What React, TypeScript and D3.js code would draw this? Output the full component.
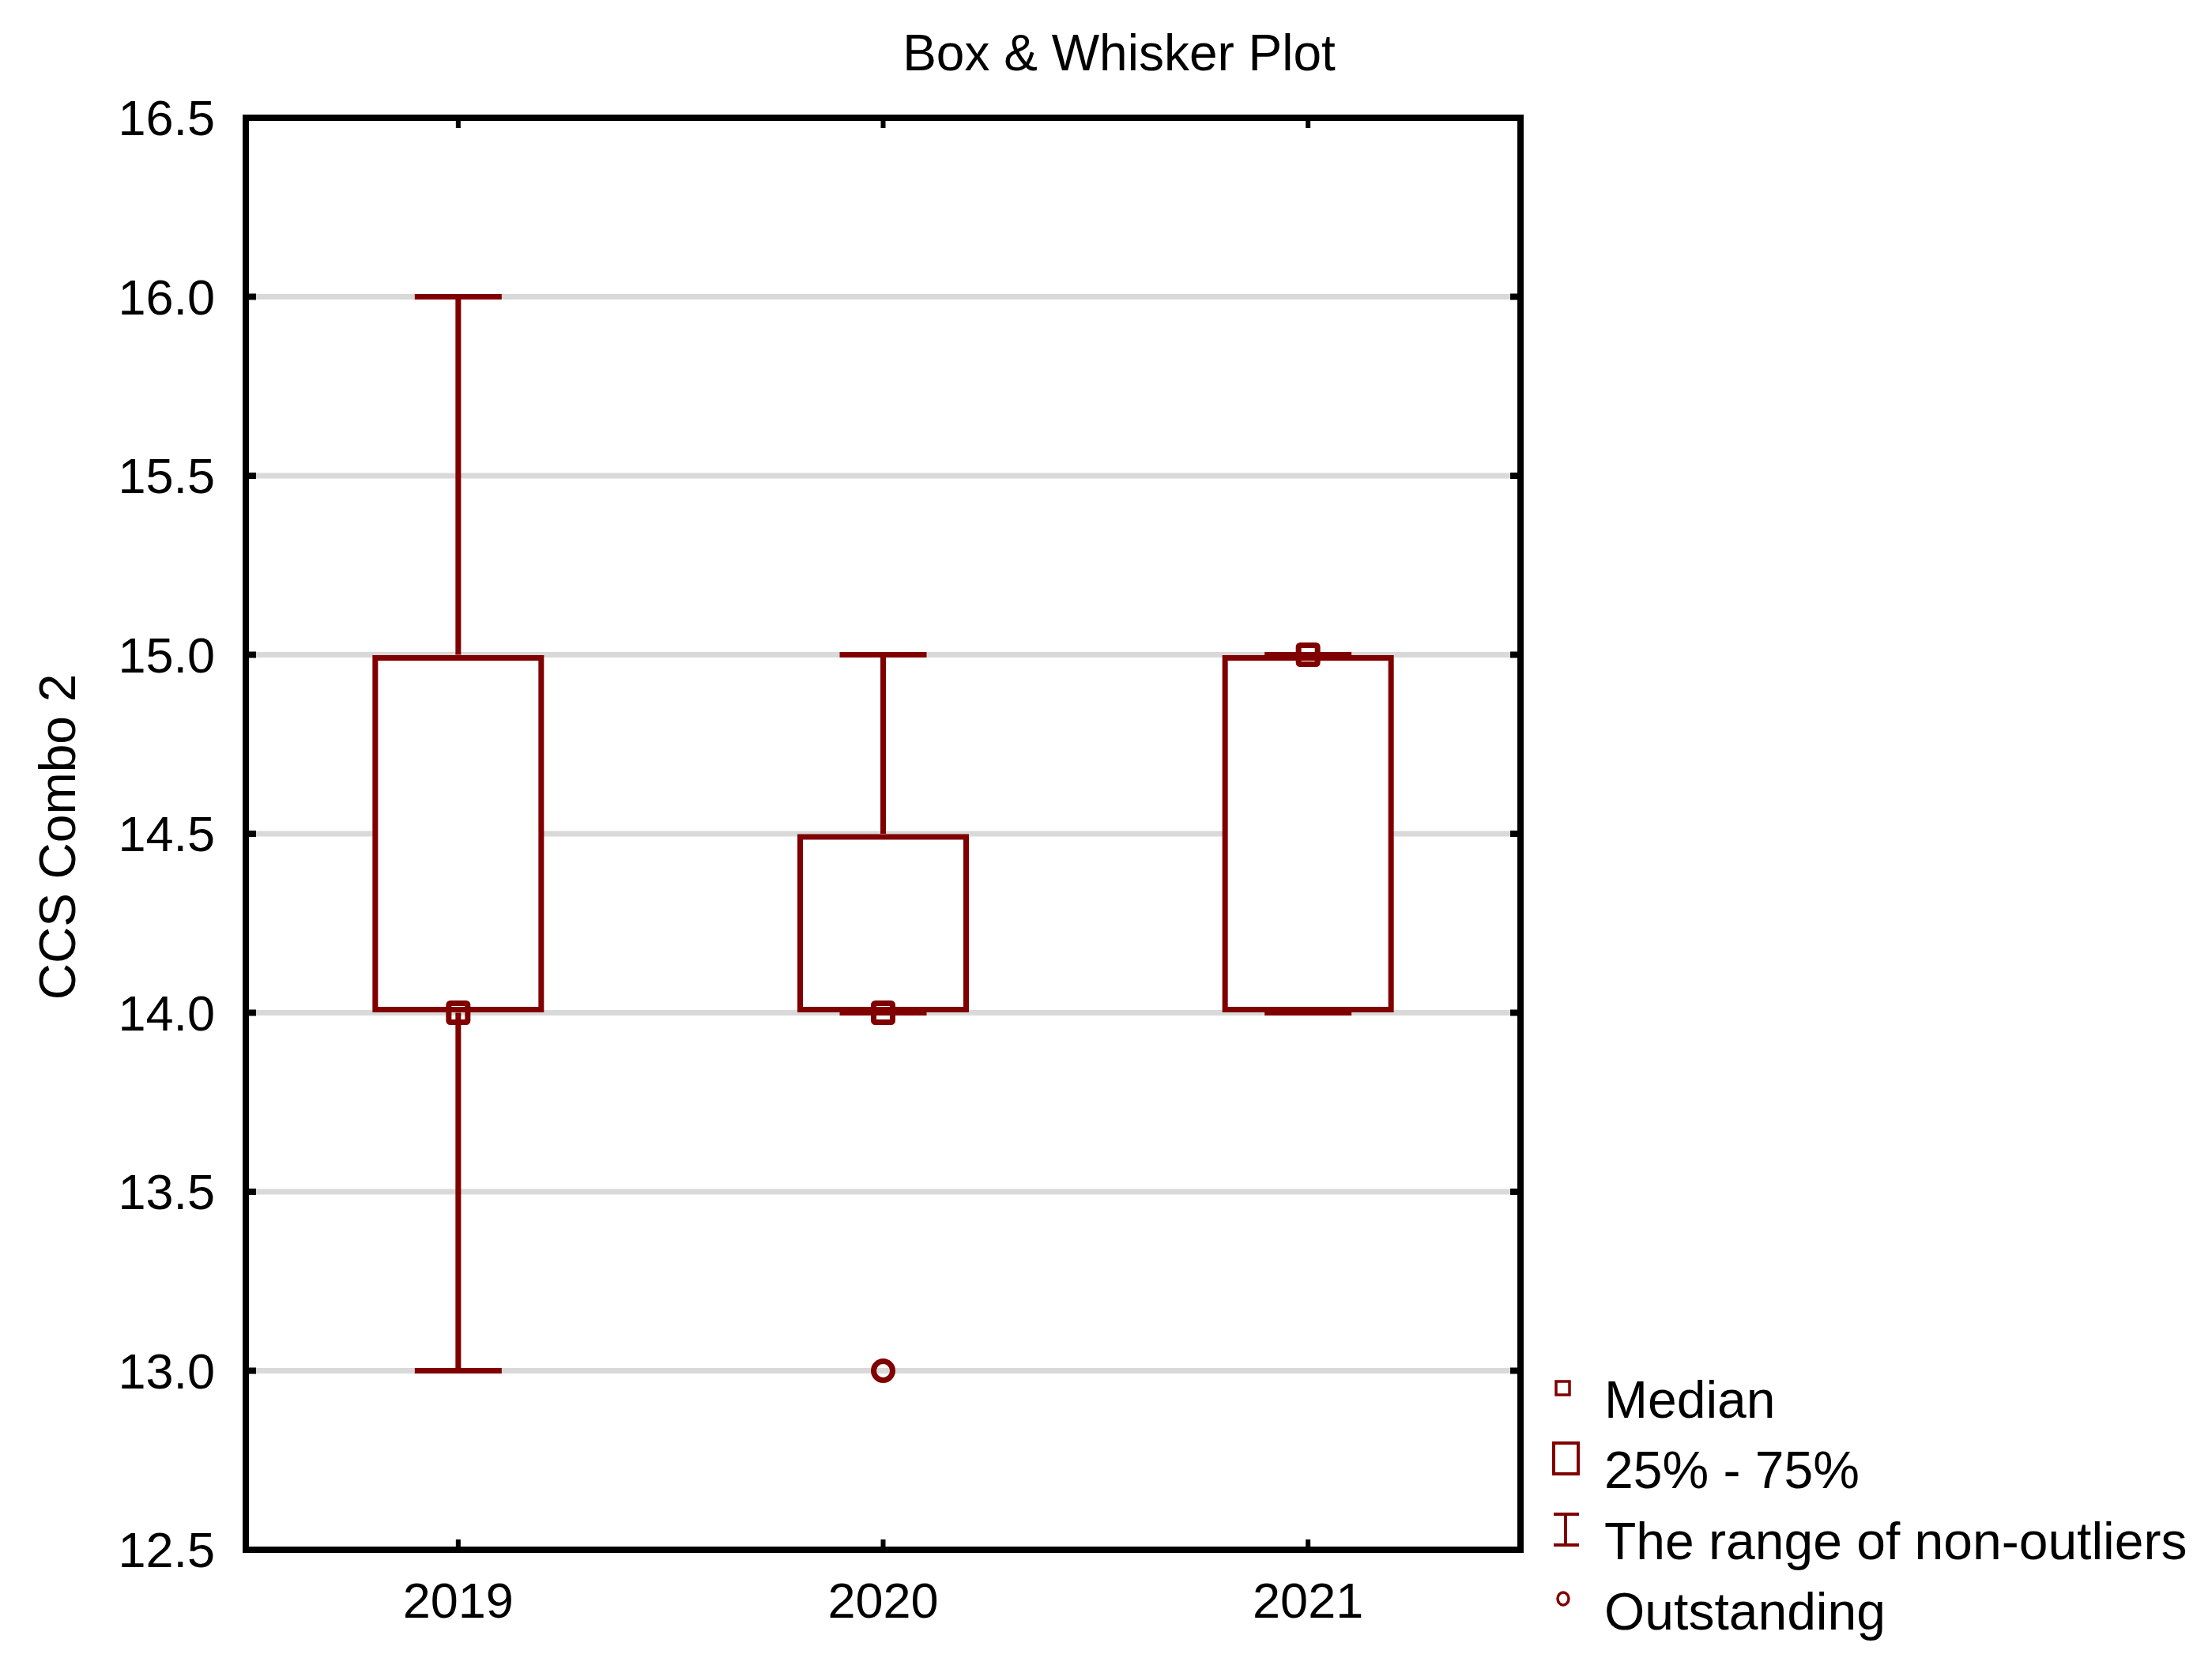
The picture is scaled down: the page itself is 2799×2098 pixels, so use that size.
import React from 'react';
import * as d3 from 'd3';

const categories = ['2019', '2020', '2021'];
const mins = [13, 14, 14];
const q1s = [14, 14, 14];
const medians = [14, 14, 15];
const q3s = [15, 14.5, 15];
const maxs = [16, 15, 15];
const outliers: number[][] = [[], [13], []];
const yTickValues = [12.5, 13.0, 13.5, 14.0, 14.5, 15.0, 15.5, 16.0, 16.5];
const gridValues = [13.0, 13.5, 14.0, 14.5, 15.0, 15.5, 16.0];
const legendLabels = ['Median', '25% - 75%', 'The range of non-outliers', 'Outstanding'];

const W = 2799;
const H = 2098;
const left = 311;
const right = 1924;
const top = 149;
const bottom = 1961;
const RED = '#800000';
const FONT = '"Liberation Sans", Arial, sans-serif';

export default function App() {
  const x = d3.scalePoint<string>().domain(categories).range([left, right]).padding(0.5);
  const y = d3.scaleLinear().domain([12.5, 16.5]).range([bottom, top]);
  const boxHalf = 105;
  const capHalf = 55;
  const sw = 7;
  const inset = 4;

  return (
    <svg width={W} height={H} style={{ position: 'absolute', left: 0, top: 0, background: '#fff' }}>
      <rect x={0} y={0} width={W} height={H} fill="#fff" />
      <text x={1416} y={89} fontFamily={FONT} fontSize={64} textAnchor="middle" fill="#000">Box &amp; Whisker Plot</text>

      {/* grid */}
      {gridValues.map((v) => (
        <line key={'g' + v} x1={left} x2={right} y1={y(v)} y2={y(v)} stroke="#d9d9d9" strokeWidth={7} />
      ))}

      {/* y ticks */}
      {yTickValues.map((v) => (
        <g key={'yt' + v}>
          <line x1={left} x2={left + 13} y1={y(v)} y2={y(v)} stroke="#000" strokeWidth={8} />
          <line x1={right - 13} x2={right} y1={y(v)} y2={y(v)} stroke="#000" strokeWidth={8} />
          <text x={272} y={y(v) + 22} fontFamily={FONT} fontSize={63} textAnchor="end" fill="#000">
            {d3.format('.1f')(v)}
          </text>
        </g>
      ))}

      {/* x ticks */}
      {categories.map((c) => (
        <g key={'xt' + c}>
          <line x1={x(c)} x2={x(c)} y1={top} y2={top + 13} stroke="#000" strokeWidth={6} />
          <line x1={x(c)} x2={x(c)} y1={bottom - 13} y2={bottom} stroke="#000" strokeWidth={6} />
          <text x={x(c)} y={2047} fontFamily={FONT} fontSize={63} textAnchor="middle" fill="#000">{c}</text>
        </g>
      ))}

      {/* frame */}
      <rect x={left} y={top} width={right - left} height={bottom - top} fill="none" stroke="#000" strokeWidth={8} />

      {/* boxes */}
      {categories.map((c, i) => {
        const cx = x(c) as number;
        return (
          <g key={'b' + c}>
            <line x1={cx} x2={cx} y1={y(maxs[i])} y2={y(q3s[i])} stroke={RED} strokeWidth={sw} />
            <line x1={cx} x2={cx} y1={y(q1s[i])} y2={y(mins[i])} stroke={RED} strokeWidth={sw} />
            <rect
              x={cx - boxHalf}
              y={y(q3s[i]) + inset}
              width={boxHalf * 2}
              height={y(q1s[i]) - y(q3s[i]) - inset * 2}
              fill="#fff"
              stroke={RED}
              strokeWidth={sw}
            />
            <line x1={cx - capHalf} x2={cx + capHalf} y1={y(maxs[i])} y2={y(maxs[i])} stroke={RED} strokeWidth={sw} />
            <line x1={cx - capHalf} x2={cx + capHalf} y1={y(mins[i])} y2={y(mins[i])} stroke={RED} strokeWidth={sw} />
            <rect x={cx - 12} y={y(medians[i]) - 12} width={24} height={24} rx={2} fill="none" stroke={RED} strokeWidth={sw} />
            {outliers[i].map((o, j) => (
              <circle key={j} cx={cx} cy={y(o)} r={12} fill="none" stroke={RED} strokeWidth={sw} />
            ))}
          </g>
        );
      })}

      {/* y label */}
      <text transform="translate(95,1059) rotate(-90)" fontFamily={FONT} fontSize={64} textAnchor="middle" fill="#000">CCS Combo 2</text>

      {/* legend */}
      <g>
        <rect x={1969} y={1748} width={17} height={17} fill="none" stroke={RED} strokeWidth={3.5} />
        <rect x={1966} y={1826} width={31} height={39} fill="none" stroke={RED} strokeWidth={4} />
        <line x1={1966} x2={1998} y1={1916} y2={1916} stroke={RED} strokeWidth={4} />
        <line x1={1966} x2={1998} y1={1955} y2={1955} stroke={RED} strokeWidth={4} />
        <line x1={1981} x2={1981} y1={1916} y2={1955} stroke={RED} strokeWidth={4} />
        <ellipse cx={1978} cy={2023} rx={7} ry={8} fill="none" stroke={RED} strokeWidth={3.5} />
        {legendLabels.map((l, i) => (
          <text key={l} x={2030} y={1794 + i * 89.3} fontFamily={FONT} fontSize={66} fill="#000">{l}</text>
        ))}
      </g>
    </svg>
  );
}
